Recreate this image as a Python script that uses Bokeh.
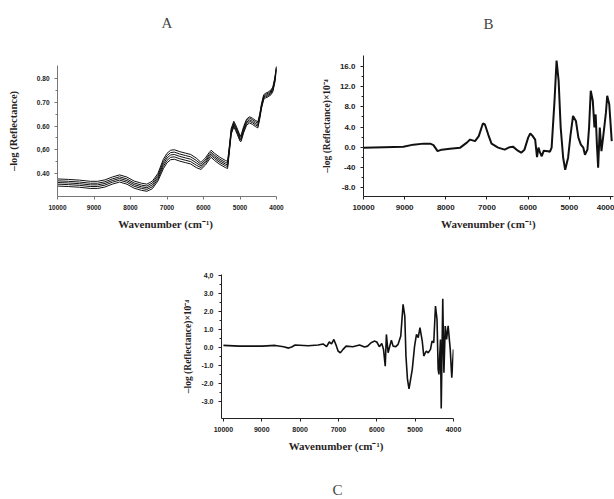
from bokeh.plotting import figure
from bokeh.layouts import column, row
from bokeh.models import Spacer, Range1d, FixedTicker, Title
from bokeh.embed import file_html
from bokeh.resources import INLINE

# ---------------- Panel A data ----------------
wn_a = [10000, 9700, 9400, 9100, 8900, 8700, 8500, 8300, 8100, 7900, 7700, 7550,
        7400, 7250, 7100, 7000, 6900, 6800, 6650, 6500, 6350, 6200, 6070, 5950,
        5850, 5790, 5700, 5550, 5400, 5340, 5290, 5240, 5170, 5120, 5070, 5000,
        4970, 4900, 4820, 4740, 4660, 4580, 4510, 4460, 4410, 4350, 4300, 4230,
        4150, 4100, 4050, 4000]
spec_a1 = [.347, .345, .342, .337, .337, .343, .355, .364, .355, .338, .329, .325,
           .336, .368, .420, .445, .458, .460, .452, .446, .440, .425, .417, .435,
           .457, .468, .455, .438, .425, .421, .493, .566, .596, .581, .563, .536,
           .535, .572, .603, .613, .607, .598, .592, .630, .675, .712, .718, .723,
           .732, .745, .780, .835]
spec_a2 = [.355, .353, .350, .345, .345, .351, .363, .372, .363, .346, .337, .333,
           .344, .376, .430, .455, .468, .470, .462, .456, .450, .435, .425, .443,
           .465, .476, .463, .446, .433, .429, .499, .572, .602, .587, .569, .542,
           .542, .579, .610, .620, .614, .605, .599, .635, .680, .717, .723, .728,
           .737, .750, .785, .840]
spec_a3 = [.362, .360, .357, .352, .352, .358, .370, .379, .370, .353, .344, .340,
           .352, .384, .440, .465, .478, .480, .472, .466, .460, .445, .432, .450,
           .472, .483, .470, .453, .440, .436, .505, .578, .608, .593, .575, .548,
           .548, .585, .616, .626, .620, .611, .605, .640, .685, .722, .728, .733,
           .742, .755, .790, .845]
spec_a4 = [.369, .367, .364, .359, .359, .365, .377, .386, .377, .360, .351, .347,
           .360, .392, .450, .475, .488, .490, .482, .476, .470, .455, .439, .457,
           .479, .490, .477, .460, .447, .443, .511, .584, .614, .599, .581, .554,
           .555, .592, .623, .633, .627, .618, .612, .645, .690, .727, .733, .738,
           .747, .760, .795, .849]
spec_a5 = [.377, .375, .372, .367, .367, .373, .385, .394, .385, .368, .359, .355,
           .368, .400, .460, .485, .498, .500, .492, .486, .480, .465, .447, .465,
           .487, .498, .485, .468, .455, .451, .517, .590, .620, .605, .587, .560,
           .561, .598, .629, .639, .633, .624, .618, .650, .695, .732, .738, .743,
           .752, .765, .800, .852]
ticks_a_y = [0.4, 0.5, 0.6, 0.7, 0.8]
labels_a_y = ["0.40", "0,60", "0.60", "0.70", "0.80"]

# ---------------- Panel B data ----------------
wn_b = [10000, 9500, 9030, 8790, 8540, 8380, 8300, 8200, 8100, 7900, 7650, 7490,
        7410, 7290, 7200, 7100, 7050, 6970, 6890, 6730, 6570, 6450, 6370, 6250,
        6170, 6090, 6000, 5950, 5890, 5830, 5785, 5750, 5710, 5670, 5620, 5520,
        5470, 5430, 5360, 5310, 5260, 5210, 5150, 5100, 5030, 4970, 4910, 4840,
        4780, 4720, 4660, 4620, 4560, 4520, 4480, 4430, 4390, 4360, 4330, 4300,
        4260, 4220, 4180, 4110, 4080, 4030, 3970]
spec_b = [-0.1, 0.0, 0.1, 0.5, 0.7, 0.7, 0.4, -0.8, -0.5, -0.3, -0.1, 0.9,
          1.5, 1.2, 2.2, 4.7, 4.5, 2.5, 0.7, -0.1, -0.5, 0.0, 0.1, -0.7,
          -1.1, -0.5, 1.9, 2.7, 2.2, 1.5, -2.0, -0.1, -1.1, -1.8, -0.7, -0.8,
          -0.9, -0.1, 9.2, 17.2, 13.2, 3.9, -2.1, -4.5, -2.1, 2.5, 6.2, 5.2,
          1.9, 0.5, -0.1, -1.5, -0.5, 3.9, 11.2, 9.2, 3.9, 6.5, 0.5, -4.1,
          3.9, -0.8, 1.9, 6.9, 10.2, 8.5, 1.2]
ticks_b_y = [-8, -4, 0, 4, 8, 12, 16]
labels_b_y = ["-8.0", "-40", "0.0", "4.0", "8.0", "12.0", "16.0"]

# ---------------- Panel C data ----------------
wn_c = [10000, 9595, 8993, 8650, 8430, 8300, 8220, 8130, 7790, 7530, 7400, 7310,
        7240, 7180, 7120, 7070, 7010, 6950, 6880, 6800, 6625, 6450, 6320, 6240,
        6150, 6065, 6000, 5935, 5870, 5825, 5780, 5750, 5705, 5650, 5620, 5575,
        5505, 5445, 5375, 5315, 5270, 5240, 5200, 5160, 5075, 5015, 4965, 4920,
        4875, 4815, 4775, 4710, 4660, 4600, 4560, 4515, 4470, 4430, 4400, 4380,
        4340, 4320, 4280, 4250, 4215, 4180, 4140, 4085, 4045, 4000]
spec_c = [0.11, 0.07, 0.07, 0.11, 0.04, -0.04, 0.02, 0.13, 0.09, 0.13, 0.19, 0.04,
          0.30, 0.20, 0.44, 0.17, -0.20, -0.30, -0.11, 0.07, 0.04, 0.13, 0.02, 0.07,
          0.26, 0.35, 0.30, 0.04, 0.22, -0.11, -1.04, 0.72, -0.30, 0.17, 0.40, 0.07,
          0.04, 0.17, 0.63, 2.39, 1.74, -0.48, -1.78, -2.30, -1.22, 0.07, 0.72, 0.54,
          1.10, 0.35, -0.48, -0.20, -0.30, -0.11, 0.35, 0.26, 2.30, 1.56, -1.22, -1.50,
          0.44, -3.40, 2.70, -1.41, 1.19, 0.44, 1.20, -0.11, -1.69, -0.11]
ticks_c_y = [-3, -2, -1, 0, 1, 2, 3, 4]
labels_c_y = ["-3.0", "-2.0", "-1.0", "0.0", "1.0", "2.0", "3.0", "4,0"]

ticks_x = [10000, 9000, 8000, 7000, 6000, 5000, 4000]
labels_x = ["10000", "9000", "8000", "7000", "6000", "5000", "4000"]

SERIF = "Liberation Serif"
SANS = "Liberation Sans"
LABEL_COLOR = "#2a1f1f"


def style(p, ticks_y, labels_y, axis_color, tick_size, xlabel, ylabel, ylab_size):
    p.grid.visible = False
    p.outline_line_color = None
    p.background_fill_color = "white"
    p.border_fill_color = "white"
    for ax in (p.xaxis[0], p.yaxis[0]):
        ax.axis_line_color = axis_color
        ax.major_tick_line_color = axis_color
        ax.minor_tick_line_color = axis_color
        ax.major_tick_out = 3
        ax.major_tick_in = 0
        ax.minor_tick_out = 2
        ax.minor_tick_in = 0
        ax.major_label_text_font = SANS
        ax.major_label_text_font_style = "bold"
        ax.major_label_text_font_size = tick_size
        ax.major_label_text_color = "#222222"
        ax.axis_label_text_font = SERIF
        ax.axis_label_text_font_style = "bold"
        ax.axis_label_text_color = LABEL_COLOR
    p.xaxis[0].ticker = FixedTicker(ticks=ticks_x)
    p.xaxis[0].major_label_overrides = {t: l for t, l in zip(ticks_x, labels_x)}
    minors = []
    for a, b in zip(ticks_y[:-1], ticks_y[1:]):
        minors.append((a + b) / 2)
    p.yaxis[0].ticker = FixedTicker(ticks=ticks_y, minor_ticks=minors)
    p.yaxis[0].major_label_overrides = {t: l for t, l in zip(ticks_y, labels_y)}
    p.xaxis[0].axis_label = xlabel
    p.yaxis[0].axis_label = ylabel
    p.xaxis[0].axis_label_text_font_size = "11px"
    p.yaxis[0].axis_label_text_font_size = ylab_size


def add_titles(p, text, side, gap, offset):
    # an empty spacer title next to the frame, then the panel letter
    p.add_layout(Title(text=" ", text_font_size="1px", standoff=gap), side)
    p.add_layout(Title(text=text, text_font=SERIF, text_font_style="normal",
                       text_font_size="15px", align="center", offset=offset,
                       standoff=0), side)


# Panel A
pA = figure(width=300, height=238, output_backend="svg", toolbar_location=None,
            x_range=Range1d(10000, 4000), y_range=Range1d(0.303, 0.855),
            min_border_left=57, min_border_right=24, min_border_top=65,
            min_border_bottom=42)
for s in (spec_a1, spec_a2, spec_a3, spec_a4, spec_a5):
    pA.line(wn_a, s, line_color="#111111", line_width=1)
style(pA, ticks_a_y, labels_a_y, "#777777", "6.5px", "Wavenumber  (cm\u207b\u00b9)",
      "\u2013log (Reflectance)", "10.5px")
pA.yaxis[0].axis_label_standoff = 15
add_titles(pA, "A", "above", 32, 10)

# Panel B
pB = figure(width=314, height=238, output_backend="svg", toolbar_location=None,
            x_range=Range1d(10000, 3927), y_range=Range1d(-9.8, 18.2),
            min_border_left=63, min_border_right=1, min_border_top=55,
            min_border_bottom=42)
pB.line(wn_b, spec_b, line_color="#111111", line_width=2)
style(pB, ticks_b_y, labels_b_y, "#222222", "8px", "Wavenumber (cm\u207b\u00b9)",
      "\u2013log (Reflectance)\u00d710\u207b\u2074", "9.5px")
add_titles(pB, "B", "above", 21, 0)

# Panel C
pC = figure(width=313, height=261, output_backend="svg", toolbar_location=None,
            x_range=Range1d(10050, 4000), y_range=Range1d(-3.95, 4.05),
            min_border_left=71, min_border_right=10, min_border_top=36,
            min_border_bottom=81)
pC.line(wn_c, spec_c, line_color="#111111", line_width=1.6)
style(pC, ticks_c_y, labels_c_y, "#222222", "7px", "Wavenumber  (cm\u207b\u00b9)",
      "\u2013log (Reflectance)\u00d710\u207b\u2074", "9.5px")
add_titles(pC, "C", "below", 22, -8)

layout = column(row(column(pA), column(pB)), row(Spacer(width=150, height=261), pC))

open("out.html", "w").write(file_html(layout, INLINE))
